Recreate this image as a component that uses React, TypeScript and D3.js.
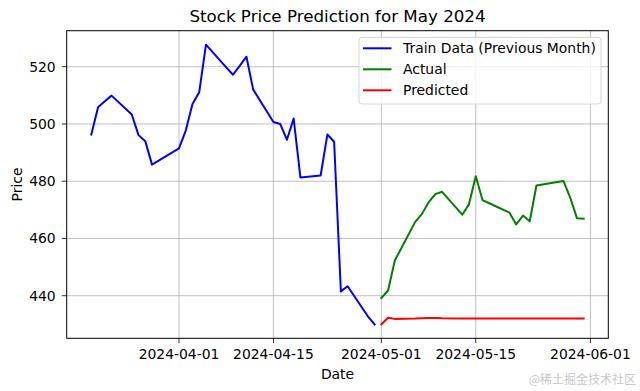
import React from "react";
import * as d3 from "d3";

const trainDates = ["2024-03-19","2024-03-20","2024-03-21","2024-03-22","2024-03-25","2024-03-26","2024-03-27","2024-03-28","2024-04-01","2024-04-02","2024-04-03","2024-04-04","2024-04-05","2024-04-08","2024-04-09","2024-04-10","2024-04-11","2024-04-12","2024-04-15","2024-04-16","2024-04-17","2024-04-18","2024-04-19","2024-04-22","2024-04-23","2024-04-24","2024-04-25","2024-04-26","2024-04-29","2024-04-30"];
const trainValues = [496.3,505.8,507.9,509.9,503.3,496.1,494.0,485.8,491.5,497.7,507.0,511.1,527.7,519.8,517.2,520.3,523.5,512.0,500.7,500.0,494.5,501.9,481.3,482.0,496.3,493.8,441.5,443.3,432.8,430.0];

const mayDates = ["2024-05-01","2024-05-02","2024-05-03","2024-05-06","2024-05-07","2024-05-08","2024-05-09","2024-05-10","2024-05-13","2024-05-14","2024-05-15","2024-05-16","2024-05-17","2024-05-20","2024-05-21","2024-05-22","2024-05-23","2024-05-24","2024-05-28","2024-05-29","2024-05-30","2024-05-31"];
const actualValues = [439.2,441.8,452.3,465.7,468.5,472.6,475.5,476.3,468.3,472.0,481.7,473.4,472.3,469.0,464.9,468.0,466.0,478.5,480.1,474.3,467.1,466.9];
const predictedValues = [430.0,432.3,431.9,432.0,432.1,432.2,432.2,432.1,432.0,432.0,432.0,432.0,432.0,432.0,432.0,432.0,432.0,432.0,432.0,432.0,432.0,432.0];

const xTickLabels = ["2024-04-01","2024-04-15","2024-05-01","2024-05-15","2024-06-01"];
const yTicks = [440,460,480,500,520];

const parse = d3.utcParse("%Y-%m-%d");

export default function App() {
  const W = 640, H = 391;
  const L = 66.7, R = 608.3, T = 30.7, B = 338.3;
  const train = trainDates.map((d, i) => ({ d: parse(d)!, v: trainValues[i] }));
  const actual = mayDates.map((d, i) => ({ d: parse(d)!, v: actualValues[i] }));
  const pred = mayDates.map((d, i) => ({ d: parse(d)!, v: predictedValues[i] }));
  const all = [...train, ...actual, ...pred];
  const [x0, x1] = d3.extent(all, p => +p.d) as [number, number];
  const xm = (x1 - x0) * 0.05;
  const [y0, y1] = d3.extent(all, p => p.v) as [number, number];
  const ym = (y1 - y0) * 0.05;
  const x = d3.scaleUtc().domain([new Date(x0 - xm), new Date(x1 + xm)]).range([L, R]);
  const y = d3.scaleLinear().domain([y0 - ym, y1 + ym]).range([B, T]);
  const line = d3.line<{ d: Date; v: number }>().x(p => x(p.d)).y(p => y(p.v));
  const font = "DejaVu Sans, sans-serif";
  const fs = 13.9;
  const xt = xTickLabels.map(s => ({ s, px: x(parse(s)!) }));
  const legend = [
    { label: "Train Data (Previous Month)", color: "#0000ff" },
    { label: "Actual", color: "#008000" },
    { label: "Predicted", color: "#ff0000" },
  ];
  return (
    <svg width={W} height={H} style={{ position: "absolute", left: 0, top: 0, background: "#fff" }} fontFamily={font}>
      <rect x={0} y={0} width={W} height={H} fill="#fff" />
      <defs>
        <clipPath id="plot"><rect x={L} y={T} width={R - L} height={B - T} /></clipPath>
      </defs>
      {xt.map(t => (
        <line key={t.s} x1={t.px} x2={t.px} y1={T} y2={B} stroke="#b0b0b0" strokeWidth={0.8} />
      ))}
      {yTicks.map(v => (
        <line key={v} x1={L} x2={R} y1={y(v)} y2={y(v)} stroke="#b0b0b0" strokeWidth={0.8} />
      ))}
      <g clipPath="url(#plot)" fill="none" strokeWidth={2} strokeLinejoin="round" strokeLinecap="square">
        <path d={line(train)!} stroke="#0000ff" />
        <path d={line(actual)!} stroke="#008000" />
        <path d={line(pred)!} stroke="#ff0000" />
      </g>
      <rect x={L} y={T} width={R - L} height={B - T} fill="none" stroke="#000" strokeWidth={1} />
      {xt.map(t => (
        <g key={t.s}>
          <line x1={t.px} x2={t.px} y1={B} y2={B + 4.9} stroke="#000" strokeWidth={0.8} />
          <text x={t.px} y={B + 21} textAnchor="middle" fontSize={fs} fill="#000">{t.s}</text>
        </g>
      ))}
      {yTicks.map(v => (
        <g key={v}>
          <line x1={L - 4.9} x2={L} y1={y(v)} y2={y(v)} stroke="#000" strokeWidth={0.8} />
          <text x={L - 11} y={y(v)} dy="0.35em" textAnchor="end" fontSize={fs} fill="#000">{v}</text>
        </g>
      ))}
      <text x={(L + R) / 2} y={378.5} textAnchor="middle" fontSize={fs} fill="#000">Date</text>
      <text transform={`translate(22,${(T + B) / 2}) rotate(-90)`} textAnchor="middle" fontSize={fs} fill="#000">Price</text>
      <text x={(L + R) / 2} y={22.3} textAnchor="middle" fontSize={16.7} fill="#000">Stock Price Prediction for May 2024</text>
      <rect x={359} y={37.3} width={242} height={66.7} rx={3} fill="#fff" fillOpacity={0.8} stroke="#d6d6d6" strokeWidth={1} />
      {legend.map((l, i) => (
        <g key={l.label}>
          <line x1={363} x2={391.5} y1={48.3 + i * 21} y2={48.3 + i * 21} stroke={l.color} strokeWidth={2} />
          <text x={403} y={48.3 + i * 21} dy="0.35em" fontSize={fs} fill="#000">{l.label}</text>
        </g>
      ))}
      <text x={636} y={384} textAnchor="end" fontSize={12} fill="#c8c8c8" fontFamily="Noto Sans CJK SC, sans-serif">@稀土掘金技术社区</text>
    </svg>
  );
}
